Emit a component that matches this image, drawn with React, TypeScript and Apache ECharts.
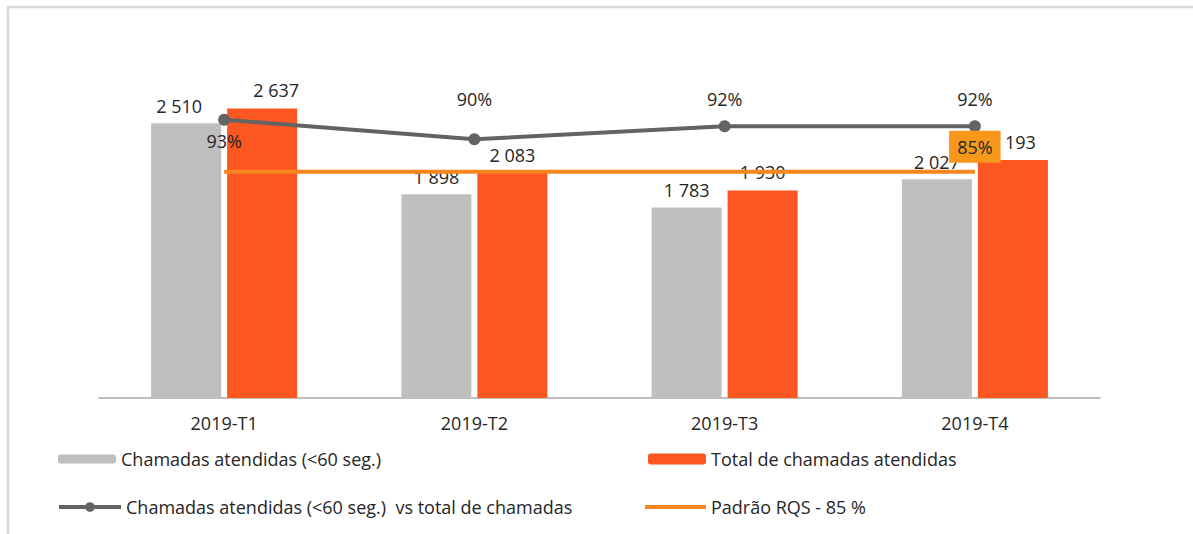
import React, { useEffect, useRef } from "react";
import * as echarts from "echarts";

const categories = ["2019-T1", "2019-T2", "2019-T3", "2019-T4"];
const answeredUnder60 = [2510, 1898, 1783, 2027];
const totalAnswered = [2637, 2083, 1930, 2193];
const pctAnswered = [93, 90, 92, 92];
const rqsStandard = [85, 85, 85, 85];

const nameGray = "Chamadas atendidas (<60 seg.)";
const nameOrange = "Total de chamadas atendidas";
const nameLine = "Chamadas atendidas (<60 seg.)  vs total de chamadas";
const nameRqs = "Padrão RQS - 85 %";

const FONT = "'Open Sans', sans-serif";
const FS = 18;
const fmtThousands = (v: number) => String(v).replace(/\B(?=(\d{3})+(?!\d))/g, " ");

export default function App() {
  const ref = useRef<HTMLDivElement>(null);
  useEffect(() => {
    if (!ref.current) return;
    const chart = echarts.init(ref.current, undefined, { renderer: "svg" });
    const legendText = { fontFamily: FONT, fontSize: FS, color: "#262626", lineHeight: 22 };
    const legendBase = { padding: 0, itemGap: 0, textStyle: legendText };
    chart.setOption({
      animation: false,
      backgroundColor: "#ffffff",
      textStyle: { fontFamily: FONT },
      graphic: [
        { type: "line", shape: { x1: 7, y1: 7, x2: 1193, y2: 7 }, style: { stroke: "#D9D9D9", lineWidth: 2.5 } },
        { type: "line", shape: { x1: 8, y1: 7, x2: 8, y2: 534 }, style: { stroke: "#D9D9D9", lineWidth: 2.5 } },
      ],
      grid: { left: 99, right: 93, top: 20, bottom: 136 },
      xAxis: {
        type: "category",
        data: categories,
        axisLine: { lineStyle: { color: "#BFBFBF", width: 2 } },
        axisTick: { show: false },
        axisLabel: { fontFamily: FONT, fontSize: FS, color: "#262626", margin: 16 },
      },
      yAxis: [
        { type: "value", min: 140, max: 3400, show: false, splitLine: { show: false } },
        { type: "value", min: 50.3, max: 108.3, show: false, splitLine: { show: false } },
      ],
      legend: [
        { ...legendBase, data: [nameGray], left: 58, top: 448, itemWidth: 58, itemHeight: 9 },
        { ...legendBase, data: [nameOrange], left: 648, top: 448, itemWidth: 58, itemHeight: 11 },
        {
          ...legendBase,
          data: [nameLine],
          left: 57,
          top: 496,
          itemWidth: 62,
          itemHeight: 12,
          lineStyle: { width: 4 },
        },
        { ...legendBase, data: [{ name: nameRqs, icon: "rect" }], left: 645, top: 496, itemWidth: 61, itemHeight: 4 },
      ],
      series: [
        {
          name: nameGray,
          type: "bar",
          data: answeredUnder60.map((v, i) => (i === 0 ? { value: v, label: { offset: [-7, 0] } } : v)),
          barWidth: 70,
          barGap: "8.6%",
          itemStyle: { color: "#BFBFBF" },
          label: {
            show: true,
            position: "top",
            distance: 8,
            fontFamily: FONT,
            fontSize: FS,
            color: "#262626",
            formatter: (p: any) => fmtThousands(p.value),
          },
        },
        {
          name: nameOrange,
          type: "bar",
          data: totalAnswered.map((v, i) => (i === 0 ? { value: v, label: { offset: [14, 0] } } : v)),
          barWidth: 70,
          itemStyle: { color: "#FC5621" },
          label: {
            show: true,
            position: "top",
            distance: 9,
            fontFamily: FONT,
            fontSize: FS,
            color: "#262626",
            formatter: (p: any) => fmtThousands(p.value),
          },
        },
        {
          name: nameLine,
          type: "line",
          yAxisIndex: 1,
          data: pctAnswered.map((v, i) =>
            i === 0
              ? { value: v, label: { position: "bottom", distance: 6 } }
              : i === 1
              ? { value: v, label: { distance: 25 } }
              : v
          ),
          symbol: "circle",
          symbolSize: 12,
          itemStyle: { color: "#636363" },
          lineStyle: { color: "#636363", width: 4 },
          label: {
            show: true,
            position: "top",
            distance: 12,
            fontFamily: FONT,
            fontSize: FS,
            color: "#262626",
            formatter: (p: any) => p.value + "%",
          },
          z: 3,
        },
        {
          name: nameRqs,
          type: "line",
          yAxisIndex: 1,
          data: rqsStandard.map((v, i) =>
            i === rqsStandard.length - 1
              ? {
                  value: v,
                  label: {
                    show: true,
                    position: "top",
                    distance: 9,
                    backgroundColor: "#F7981D",
                    padding: [7, 8, 7, 8],
                    fontFamily: FONT,
                    fontSize: FS,
                    color: "#262626",
                    formatter: (p: any) => p.value + "%",
                  },
                }
              : v
          ),
          symbol: "circle",
          symbolSize: 0.1,
          showSymbol: true,
          itemStyle: { color: "#F7861E" },
          lineStyle: { color: "#F7861E", width: 4 },
          label: { show: false },
          z: 4,
        },
      ],
    });
    return () => chart.dispose();
  }, []);
  return (
    <div
      ref={ref}
      style={{ position: "absolute", left: 0, top: 0, width: 1193, height: 534 }}
    />
  );
}
